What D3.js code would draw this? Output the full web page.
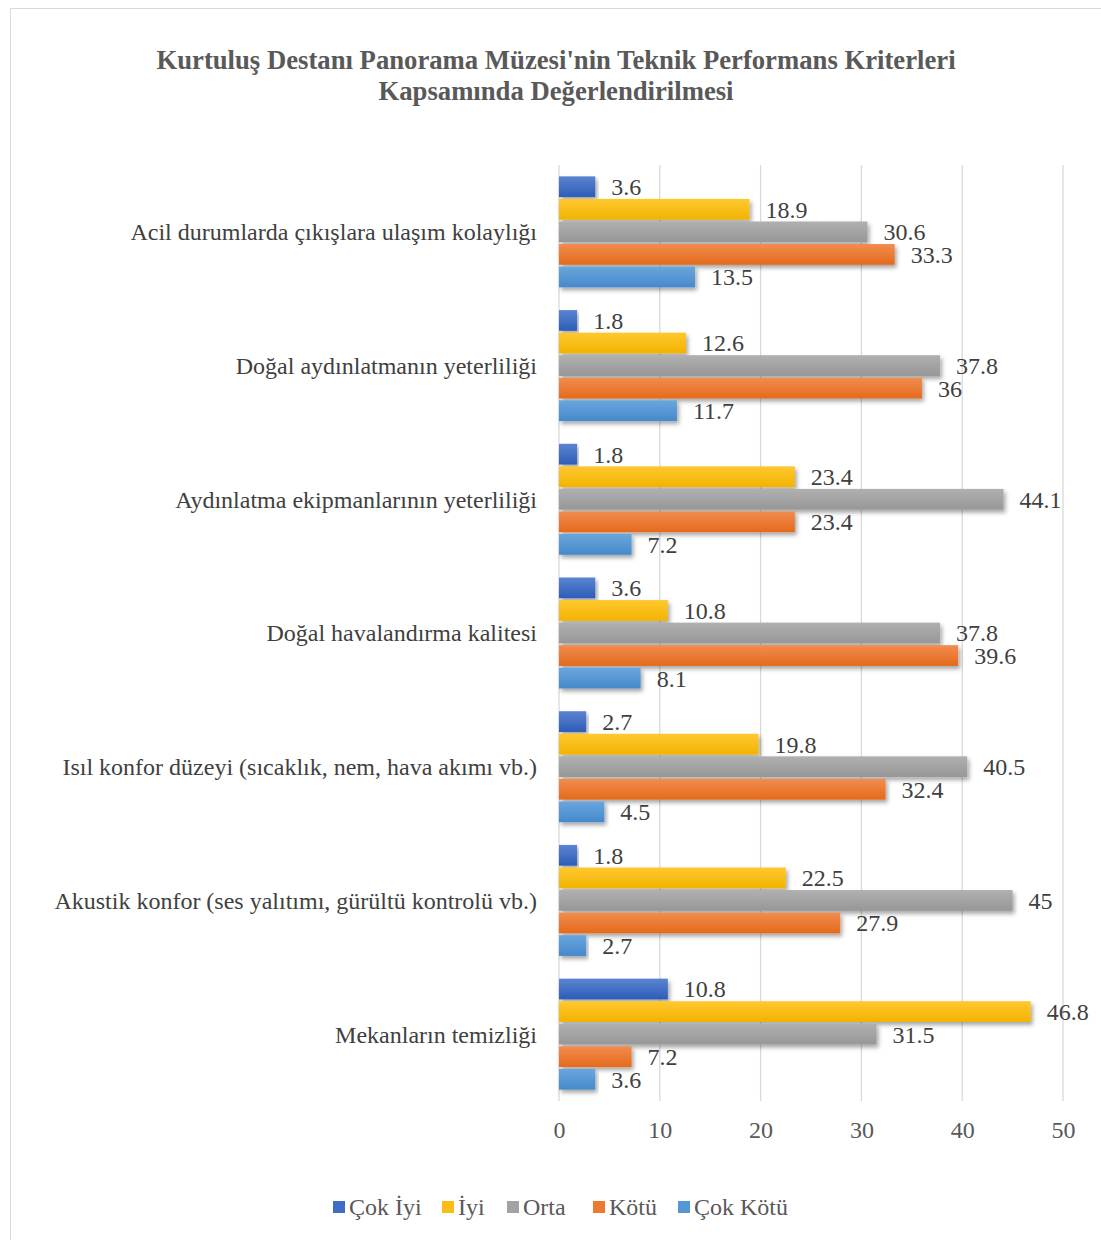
<!DOCTYPE html>
<html><head><meta charset="utf-8">
<script src="https://cdn.jsdelivr.net/npm/d3@7"></script>
<style>body{margin:0;background:#fff}svg{display:block}</style>
</head><body>
<script>
const categories = [
  "Acil durumlarda çıkışlara ulaşım kolaylığı",
  "Doğal aydınlatmanın yeterliliği",
  "Aydınlatma ekipmanlarının yeterliliği",
  "Doğal havalandırma kalitesi",
  "Isıl konfor düzeyi (sıcaklık, nem, hava akımı vb.)",
  "Akustik konfor (ses yalıtımı, gürültü kontrolü vb.)",
  "Mekanların temizliği"
];
const seriesNames = ["Çok İyi", "İyi", "Orta", "Kötü", "Çok Kötü"];
const cokIyi  = [3.6, 1.8, 1.8, 3.6, 2.7, 1.8, 10.8];
const iyi     = [18.9, 12.6, 23.4, 10.8, 19.8, 22.5, 46.8];
const orta    = [30.6, 37.8, 44.1, 37.8, 40.5, 45, 31.5];
const kotu    = [33.3, 36, 23.4, 39.6, 32.4, 27.9, 7.2];
const cokKotu = [13.5, 11.7, 7.2, 8.1, 4.5, 2.7, 3.6];
const xTicks = [0, 10, 20, 30, 40, 50];
const title = ["Kurtuluş Destanı Panorama Müzesi'nin Teknik Performans Kriterleri", "Kapsamında Değerlendirilmesi"];

const seriesValues = [cokIyi, iyi, orta, kotu, cokKotu];
const colors = [
  ["#5b84d2", "#2d5db7"],
  ["#ffc830", "#f2b300"],
  ["#b0b0b0", "#979797"],
  ["#f28c4e", "#e46a1c"],
  ["#6aa6dd", "#4689cc"]
];
const legendColors = ["#3f6cc4", "#fbbd14", "#a3a3a3", "#ee7a30", "#5597d4"];

const W = 1101, H = 1240;
const svg = d3.select("body").append("svg").attr("width", W).attr("height", H);
const defs = svg.append("defs");
colors.forEach((c, i) => {
  const g = defs.append("linearGradient").attr("id", "g" + i).attr("x1", 0).attr("y1", 0).attr("x2", 0).attr("y2", 1);
  g.append("stop").attr("offset", "0%").attr("stop-color", c[0]);
  g.append("stop").attr("offset", "100%").attr("stop-color", c[1]);
});
const f = defs.append("filter").attr("id", "sh").attr("x", "-5%").attr("y", "-30%").attr("width", "115%").attr("height", "180%");
f.append("feDropShadow").attr("dx", 2).attr("dy", 3).attr("stdDeviation", 2).attr("flood-color", "#000").attr("flood-opacity", 0.35);

// border
svg.append("rect").attr("x", 10.5).attr("y", 8.5).attr("width", W).attr("height", H).attr("fill", "#fff").attr("stroke", "#d9d9d9");

const font = "'Liberation Serif','Times New Roman',serif";
svg.append("g").selectAll("text").data(title).join("text")
  .attr("x", 556).attr("y", (d, i) => 69 + i * 31)
  .attr("text-anchor", "middle").attr("font-family", font).attr("font-weight", "bold")
  .attr("font-size", 26.7).attr("fill", "#595959").text(d => d);

const x = d3.scaleLinear().domain([0, 50]).range([559, 1063]);
const y = d3.scaleBand().domain(categories).range([165, 1101]).paddingInner(0.17).paddingOuter(0.085);
const yi = d3.scaleBand().domain(seriesNames).range([0, y.bandwidth()]).paddingInner(0.08);

// gridlines
svg.append("g").selectAll("line").data(xTicks).join("line")
  .attr("x1", d => x(d)).attr("x2", d => x(d)).attr("y1", 165).attr("y2", 1101)
  .attr("stroke", "#d9d9d9").attr("stroke-width", 1.3);

// axis
const ax = svg.append("g").attr("transform", "translate(0,1101)")
  .call(d3.axisBottom(x).tickValues(xTicks).tickSize(0).tickPadding(20));
ax.select(".domain").remove();
ax.selectAll("text").attr("font-family", font).attr("font-size", 24).attr("fill", "#595959");

// category labels
svg.append("g").selectAll("text").data(categories).join("text")
  .attr("x", 537).attr("y", d => y(d) + y.bandwidth() / 2).attr("dy", "0.35em")
  .attr("text-anchor", "end").attr("font-family", font).attr("font-size", 24).attr("fill", "#404040").text(d => d);

const groups = svg.append("g").selectAll("g").data(categories).join("g")
  .attr("transform", d => `translate(0,${y(d)})`);
seriesNames.forEach((s, si) => {
  groups.append("rect")
    .attr("x", x(0)).attr("y", yi(s)).attr("height", yi.bandwidth())
    .attr("width", (d, ci) => x(seriesValues[si][ci]) - x(0))
    .attr("fill", `url(#g${si})`).attr("filter", "url(#sh)");
});
seriesNames.forEach((s, si) => {
  groups.append("text")
    .attr("x", (d, ci) => x(seriesValues[si][ci]) + 16)
    .attr("y", yi(s) + yi.bandwidth() / 2).attr("dy", "0.35em")
    .attr("font-family", font).attr("font-size", 24).attr("fill", "#404040")
    .text((d, ci) => seriesValues[si][ci]);
});

// legend
const legX = [333, 442, 507, 593, 678];
const leg = svg.append("g").selectAll("g").data(seriesNames).join("g")
  .attr("transform", (d, i) => `translate(${legX[i]},1207)`);
leg.append("rect").attr("x", 0).attr("y", -6).attr("width", 12).attr("height", 12).attr("fill", (d, i) => legendColors[i]);
leg.append("text").attr("x", 16).attr("dy", "0.35em").attr("font-family", font).attr("font-size", 24).attr("fill", "#595959").text(d => d);
</script>
</body></html>
